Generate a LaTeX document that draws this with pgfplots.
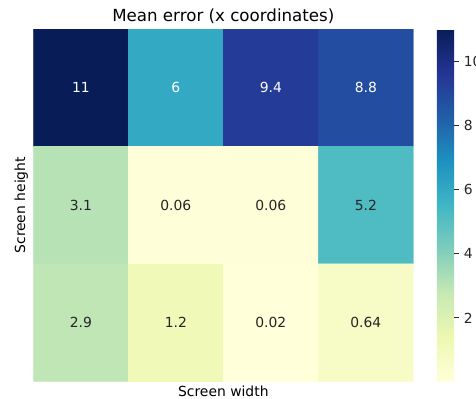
\documentclass[border=0pt]{standalone}
\usepackage{pgfplots}
\pgfplotsset{compat=1.18}
\usepackage{pgfplotstable}
\usepackage{fontspec}
\setmainfont{DejaVu Sans}

\definecolor{annodark}{HTML}{262626}

% YlGnBu sequential palette
\pgfplotsset{
  colormap={ylgnbu}{
    rgb255=(255,255,217) rgb255=(237,248,177) rgb255=(199,233,180)
    rgb255=(127,205,187) rgb255=(65,182,196) rgb255=(29,145,192)
    rgb255=(34,94,168) rgb255=(37,52,148) rgb255=(8,29,88)
  }
}

% mean error per cell: col = screen width bin, row = screen height bin
\pgfplotstableread{
x y c
0 0 11
1 0 6
2 0 9.4
3 0 8.8
0 1 3.1
1 1 0.06
2 1 0.06
3 1 5.2
0 2 2.9
1 2 1.2
2 2 0.02
3 2 0.64
}\errtable

% cell annotations on dark cells
\pgfplotstableread{
x y lab
0 0 11
1 0 6
2 0 9.4
3 0 8.8
}\darklabels

% cell annotations on light cells
\pgfplotstableread{
x y lab
0 1 3.1
1 1 0.06
2 1 0.06
3 1 5.2
0 2 2.9
1 2 1.2
2 2 0.02
3 2 0.64
}\lightlabels

\begin{document}
\begin{tikzpicture}
\begin{axis}[
  name=hm,
  scale only axis,
  width=273.6pt, height=253.7pt,
  xmin=-0.5, xmax=3.5, ymin=-0.5, ymax=2.5,
  y dir=reverse,
  xtick=\empty, ytick=\empty,
  axis line style={draw=none},
  colormap name=ylgnbu,
  point meta min=0.02, point meta max=11,
  font=\fontsize{10}{12}\selectfont,
  title={Mean error (x coordinates)},
  title style={at={(0.5,0.998)}, anchor=base, font=\fontsize{12}{14}\selectfont},
  xlabel={Screen width},
  xlabel style={at={(0.5,-0.044)}, anchor=base},
  ylabel={Screen height},
  ylabel style={at={(-0.0219,0.5)}, anchor=base, rotate=0},
  colorbar,
  colorbar/width=12.5pt,
  colorbar shift/.style={xshift=16.85pt},
  colorbar style={
    at={(parent axis.north east)}, anchor=north west,
    scale only axis,
    width=12.5pt, height=253.7pt,
    axis line style={draw=none},
    ytick={2,4,6,8,10},
    ytick pos=right,
    tick align=outside,
    major tick length=3.5pt,
    ytick style={draw=annodark, line width=0.8pt},
    yticklabel pos=right,
    yticklabel style={font=\fontsize{10}{12}\selectfont, text=annodark},
    /pgf/number format/assume math mode=true,
  },
]
\addplot[matrix plot*, mesh/cols=4, mesh/rows=3, point meta=explicit]
  table[x=x, y=y, meta=c] {\errtable};
\addplot[only marks, mark=none, point meta=explicit symbolic,
  nodes near coords,
  nodes near coords style={anchor=center, text=white, font=\fontsize{10}{12}\selectfont}]
  table[x=x, y=y, meta=lab] {\darklabels};
\addplot[only marks, mark=none, point meta=explicit symbolic,
  nodes near coords,
  nodes near coords style={anchor=center, text=annodark, font=\fontsize{10}{12}\selectfont}]
  table[x=x, y=y, meta=lab] {\lightlabels};
\end{axis}
\pgfresetboundingbox
\path[use as bounding box] ([xshift=-24pt,yshift=-12pt]hm.south west)
  rectangle ([xshift=45.1pt,yshift=20.9pt]hm.north east);
\end{tikzpicture}
\end{document}
